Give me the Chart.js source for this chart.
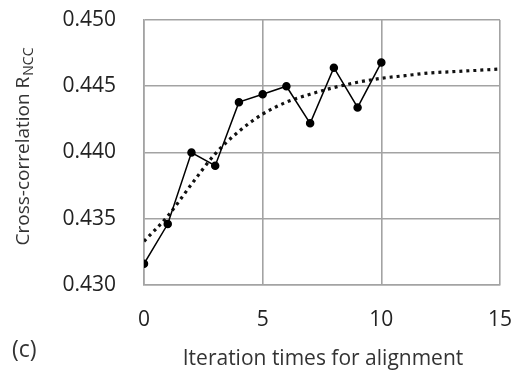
<!DOCTYPE html>
<html><head><meta charset="utf-8">
<script src="https://cdn.jsdelivr.net/npm/chart.js@4"></script>
<style>html,body{margin:0;padding:0;background:#fff}</style>
</head><body>
<canvas id="c" width="513" height="373"></canvas>
<script>
const iterations = [0, 1, 2, 3, 4, 5, 6, 7, 8, 9, 10];
const rncc = [0.4316, 0.4346, 0.4400, 0.4390, 0.4438, 0.4444, 0.4450, 0.4422, 0.4464, 0.4434, 0.4468];
const trendX = [0, 1, 2, 3, 4, 5, 6, 7, 8, 9, 10, 11, 12, 13, 14, 15];
const trendY = [0.4333, 0.4352, 0.4376, 0.4399, 0.4416, 0.4429, 0.4438, 0.4444, 0.4449, 0.4453, 0.4456, 0.4458, 0.4460, 0.4461, 0.4462, 0.4463];
const xTicks = [0, 5, 10, 15];
const yTicks = [0.430, 0.435, 0.440, 0.445, 0.450];
const xTitle = 'Iteration times for alignment';
const yTitleMain = 'Cross-correlation R';
const yTitleSub = 'NCC';
const panelLabel = '(c)';

const FONT = '"Open Sans", sans-serif';
const GRID = '#a3a3a3';

const titlesPlugin = {
  id: 'titles',
  afterDraw(chart) {
    const ctx = chart.ctx;
    const area = chart.chartArea;
    ctx.save();
    ctx.fillStyle = '#333';
    ctx.textBaseline = 'middle';
    // x title
    ctx.font = '21px ' + FONT;
    ctx.textAlign = 'center';
    ctx.fillText(xTitle, (area.left + area.right) / 2 + 1, 359);
    // panel label
    ctx.font = '23px ' + FONT;
    ctx.textAlign = 'left';
    ctx.fillText(panelLabel, 12, 350);
    // y title with subscript
    ctx.translate(24, 147);
    ctx.rotate(-Math.PI / 2);
    ctx.font = '19px ' + FONT;
    const wMain = ctx.measureText(yTitleMain).width;
    ctx.font = '14px ' + FONT;
    const wSub = ctx.measureText(yTitleSub).width;
    const start = -(wMain + wSub) / 2;
    ctx.textAlign = 'left';
    ctx.font = '19px ' + FONT;
    ctx.fillText(yTitleMain, start, 0);
    ctx.font = '14px ' + FONT;
    ctx.fillText(yTitleSub, start + wMain + 1, 5);
    ctx.restore();
  }
};

new Chart(document.getElementById('c'), {
  type: 'scatter',
  data: {
    datasets: [
      {
        data: iterations.map((x, i) => ({x, y: rncc[i]})),
        showLine: true,
        borderColor: '#000',
        backgroundColor: '#000',
        borderWidth: 1.5,
        pointRadius: 3.5,
        pointHoverRadius: 3.5,
        order: 1
      },
      {
        data: trendX.map((x, i) => ({x, y: trendY[i]})),
        showLine: true,
        borderColor: '#111',
        borderWidth: 3.2,
        borderDash: [3, 4],
        pointRadius: 0,
        tension: 0.4,
        cubicInterpolationMode: 'monotone',
        order: 2
      }
    ]
  },
  options: {
    responsive: false,
    animation: false,
    events: [],
    layout: { padding: { top: 20, right: 13, left: 0, bottom: 0 } },
    plugins: { legend: { display: false }, tooltip: { enabled: false } },
    scales: {
      x: {
        type: 'linear', min: 0, max: 15,
        afterFit(s) { s.height = 88; s.paddingRight = 0; s.paddingLeft = 0; },
        afterBuildTicks(s) { s.ticks = xTicks.map(v => ({value: v})); },
        grid: { color: GRID, lineWidth: 1.6, drawTicks: false },
        border: { color: GRID, width: 1.6 },
        ticks: { padding: 22, color: '#222', font: { family: FONT, size: 21 }, maxRotation: 0 }
      },
      y: {
        min: 0.430, max: 0.450,
        afterFit(s) { s.width = 144; s.paddingTop = 0; s.paddingBottom = 0; },
        afterBuildTicks(s) { s.ticks = yTicks.map(v => ({value: v})); },
        grid: { color: GRID, lineWidth: 1.6, drawTicks: false },
        border: { color: GRID, width: 1.6 },
        ticks: { padding: 28, color: '#222', font: { family: FONT, size: 21 }, callback: v => v.toFixed(3) }
      }
    }
  },
  plugins: [titlesPlugin]
});
</script>
</body></html>
